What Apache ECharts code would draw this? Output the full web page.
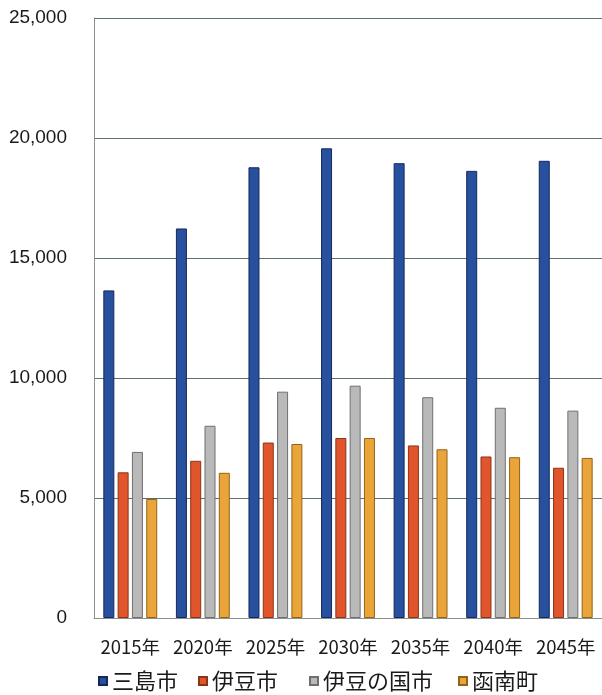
<!DOCTYPE html>
<html><head><meta charset="utf-8">
<script src="https://cdn.jsdelivr.net/npm/echarts@6/dist/echarts.min.js"></script>
<style>html,body{margin:0;padding:0;background:#fff}#c{width:602px;height:695px}</style>
</head><body><div id="c"></div>
<script>
const categories = ['2015年','2020年','2025年','2030年','2035年','2040年','2045年'];
const mishima = [13650, 16230, 18780, 19570, 18950, 18630, 19050];
const izu = [6070, 6550, 7310, 7500, 7190, 6730, 6260];
const izunokuni = [6920, 8010, 9430, 9680, 9200, 8760, 8640];
const kannami = [4960, 6050, 7250, 7500, 7030, 6700, 6670];
const seriesNames = ['三島市','伊豆市','伊豆の国市','函南町'];
const yTicks = {min: 0, max: 25000, interval: 5000};

const colors = ['#27509f','#e0552b','#b9b9b9','#eaa53a'];
const borders = ['#16285a','#8a3518','#6f6f6f','#946218'];
const dataSets = [mishima, izu, izunokuni, kannami];
const legendLefts = [98, 198, 309, 458];

const chart = echarts.init(document.getElementById('c'), null, {renderer:'canvas'});
chart.setOption({
  backgroundColor: '#fff',
  animation: false,
  grid: {left: 94, right: -6, top: 18, bottom: 77, containLabel: false},
  legend: seriesNames.map((n, i) => ({
    left: legendLefts[i], top: 670, padding: 0, itemWidth: 8, itemHeight: 8,
    icon: 'rect',
    textStyle: {fontSize: 22, color: '#1a1a1a', fontFamily: '"Noto Sans CJK JP", sans-serif'},
    data: [n]
  })),
  xAxis: {
    type: 'category', data: categories,
    axisLine: {show: true, lineStyle: {color: '#8a9090', width: 1}},
    axisTick: {show: false},
    axisLabel: {interval: 0, fontSize: 18.5, color: '#1a1a1a', margin: 20, fontFamily: '"Noto Sans CJK JP", sans-serif'}
  },
  yAxis: {
    type: 'value', min: yTicks.min, max: yTicks.max, interval: yTicks.interval,
    axisLine: {show: true, lineStyle: {color: '#8a9090', width: 1}},
    axisTick: {show: false},
    splitLine: {lineStyle: {color: '#5f7070', width: 1}},
    axisLabel: {
      fontSize: 19, color: '#1a1a1a', margin: 27,
      fontFamily: '"Liberation Sans", Arial, sans-serif',
      formatter: v => v.toLocaleString('en-US')
    }
  },
  series: seriesNames.map((n, i) => ({
    name: n, type: 'bar', data: dataSets[i],
    barWidth: 11, barGap: '30%',
    itemStyle: {color: colors[i], borderColor: borders[i], borderWidth: 1}
  }))
});
</script></body></html>
